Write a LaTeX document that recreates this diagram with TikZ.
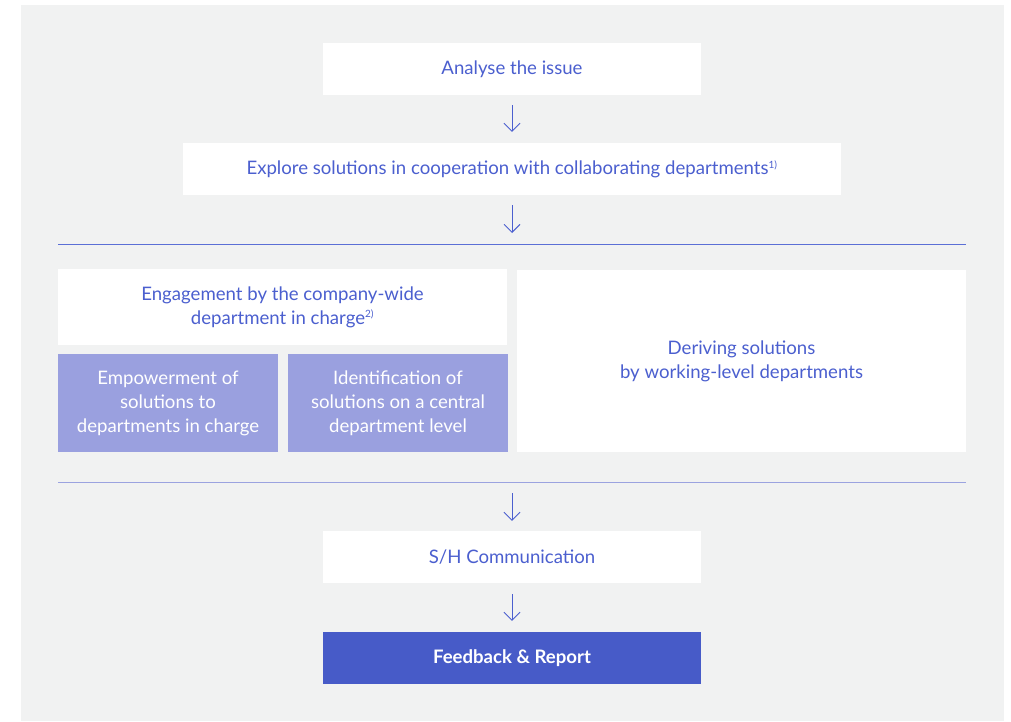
\documentclass[tikz,border=0pt]{standalone}
\usepackage{fontspec}
\setmainfont{Lato}
\usetikzlibrary{arrows.meta}
\definecolor{bgpanel}{HTML}{F1F2F2}
\definecolor{txtblue}{HTML}{4B5FCF}
\definecolor{lilac}{HTML}{9AA0DF}
\definecolor{dark}{HTML}{475BC8}
\definecolor{rule1}{HTML}{5B6FD6}
\definecolor{rule2}{HTML}{9BA3E0}
\newcommand{\fnmark}[1]{\textsuperscript{\fontsize{10}{10}\selectfont #1}}
\tikzset{
  x=1pt, y=-1pt,
  basefont/.style={font=\fontsize{18.6}{24}\selectfont},
  wbox/.style={fill=white, draw=none, text=txtblue, align=center, inner sep=0pt, basefont},
  pbox/.style={fill=lilac, draw=none, text=white, align=center, inner sep=0pt, basefont},
  dbox/.style={fill=dark, draw=none, text=white, align=center, inner sep=0pt,
    font=\fontsize{18.6}{24}\selectfont\bfseries},
  flow/.style={draw=txtblue, line width=0.9pt, -{Straight Barb[length=8pt,width=16pt,line width=0.9pt]}},
  sep1/.style={draw=rule1, line width=1pt},
  sep2/.style={draw=rule2, line width=1pt}
}
\begin{document}
\begin{tikzpicture}
\useasboundingbox (0,0) rectangle (1011,721);
\fill[bgpanel] (21,5) rectangle (1004,721);

\node[wbox, minimum width=378pt, minimum height=52pt] (a) at (512,69) {Analyse the issue};
\node[wbox, minimum width=658pt, minimum height=52pt] (b) at (512,169) {Explore solutions in cooperation with collaborating departments\fnmark{1)}};

\coordinate (l1w) at (58,244);
\coordinate (l1e) at (966,244);
\coordinate (l1c) at (512,244);
\draw[sep1] (l1w) -- (l1e);

\node[wbox, minimum width=449pt, minimum height=76pt] (c) at (282.5,307) {Engagement by the company-wide\\department in charge\fnmark{2)}};
\node[pbox, minimum width=220pt, minimum height=98pt] (d) at (168,403) {Empowerment of\\solutions to\\departments in charge};
\node[pbox, minimum width=220pt, minimum height=98pt] (e) at (398,403) {Identification of\\solutions on a central\\department level};
\node[wbox, minimum width=449pt, minimum height=182pt] (f) at (741.5,361) {Deriving solutions\\by working-level departments};

\coordinate (l2w) at (58,482);
\coordinate (l2e) at (966,482);
\coordinate (l2c) at (512,482);
\draw[sep2] (l2w) -- (l2e);

\node[wbox, minimum width=378pt, minimum height=52pt] (g) at (512,557) {S/H Communication};
\node[dbox, minimum width=378pt, minimum height=52pt] (h) at (512,658) {Feedback \& Report};

\draw[flow, shorten <=10pt, shorten >=11pt] (a) -- (b);
\draw[flow, shorten <=10pt, shorten >=11pt] (b) -- (l1c);
\draw[flow, shorten <=11pt, shorten >=10pt] (l2c) -- (g);
\draw[flow, shorten <=11pt, shorten >=11pt] (g) -- (h);
\end{tikzpicture}
\end{document}
